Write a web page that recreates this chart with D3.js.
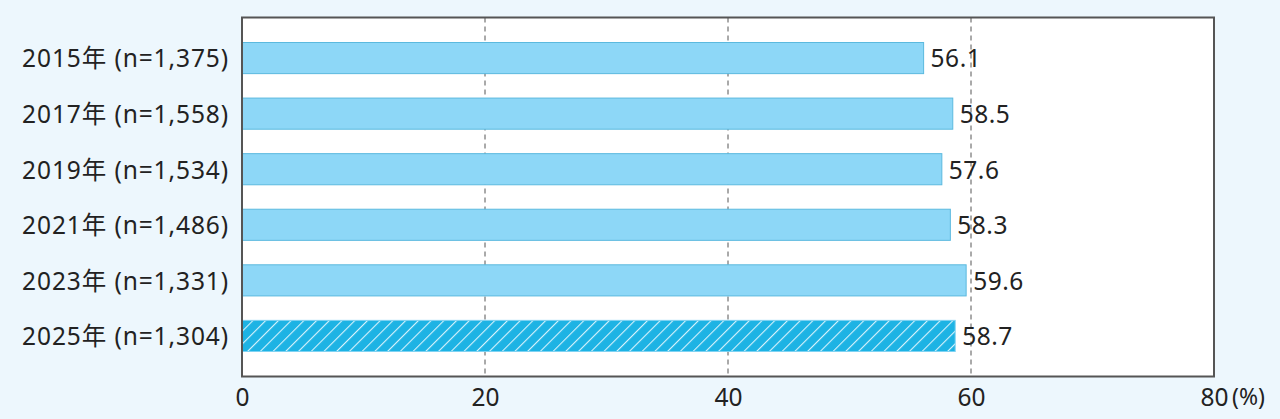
<!DOCTYPE html>
<html>
<head>
<meta charset="utf-8">
<script src="https://cdn.jsdelivr.net/npm/d3@7"></script>
<style>
  html, body { margin: 0; padding: 0; background: #edf7fd; }
  svg { display: block; font-family: 'Noto Sans', 'Noto Sans CJK JP', sans-serif; }
</style>
</head>
<body>
<svg id="chart"></svg>
<script>
const categories = ['2015年 (n=1,375)', '2017年 (n=1,558)', '2019年 (n=1,534)',
  '2021年 (n=1,486)', '2023年 (n=1,331)', '2025年 (n=1,304)'];
const values = [56.1, 58.5, 57.6, 58.3, 59.6, 58.7];
const highlighted = [false, false, false, false, false, true];
const xTicks = [0, 20, 40, 60, 80];
const unitLabel = '(%)';

const w = 1280;
const h = 419;
const margin = { top: 17.5, right: 66, bottom: 42.5, left: 242 };
const textColor = '#222';

const svg = d3.select('#chart').attr('width', w).attr('height', h);

// hatch for the latest year
const defs = svg.append('defs');
const pat = defs.append('pattern')
  .attr('id', 'hatch')
  .attr('patternUnits', 'userSpaceOnUse')
  .attr('width', 9)
  .attr('height', 9)
  .attr('patternTransform', 'rotate(45)');
pat.append('rect').attr('width', 9).attr('height', 9).attr('fill', '#1db3e4');
pat.append('line')
  .attr('x1', 0).attr('y1', 0).attr('x2', 0).attr('y2', 9)
  .attr('stroke', '#d8f3fc').attr('stroke-width', 2.2);

const xScale = d3.scaleLinear()
  .domain([0, 80])
  .range([margin.left, w - margin.right]);

const yScale = d3.scaleBand()
  .domain(categories)
  .range([margin.top, h - margin.bottom])
  .paddingInner(0.44)
  .paddingOuter(0.45);

// plot background
svg.append('rect')
  .attr('x', xScale(0))
  .attr('y', margin.top)
  .attr('width', xScale(80) - xScale(0))
  .attr('height', h - margin.bottom - margin.top)
  .attr('fill', '#fff');

// dashed grid
svg.append('g')
  .selectAll('line')
  .data(xTicks.slice(1, -1))
  .enter()
  .append('line')
  .attr('x1', (d) => xScale(d))
  .attr('x2', (d) => xScale(d))
  .attr('y1', margin.top)
  .attr('y2', h - margin.bottom)
  .attr('stroke', '#555')
  .attr('stroke-width', 1)
  .attr('stroke-dasharray', '5,4');

// bars
svg.append('g')
  .selectAll('rect')
  .data(values)
  .enter()
  .append('rect')
  .attr('x', xScale(0))
  .attr('y', (d, i) => yScale(categories[i]))
  .attr('width', (d) => xScale(d) - xScale(0))
  .attr('height', yScale.bandwidth())
  .attr('fill', (d, i) => (highlighted[i] ? 'url(#hatch)' : '#8dd7f7'))
  .attr('stroke', (d, i) => (highlighted[i] ? '#7fd2f2' : '#5bb9de'))
  .attr('stroke-width', 1);

// value labels
svg.append('g')
  .selectAll('text')
  .data(values)
  .enter()
  .append('text')
  .attr('x', (d) => xScale(d) + 7)
  .attr('y', (d, i) => yScale(categories[i]) + yScale.bandwidth() / 2)
  .attr('dy', '0.38em')
  .attr('font-size', 24.5)
  .attr('letter-spacing', 0.5)
  .attr('fill', textColor)
  .text((d) => d.toFixed(1));

// frame
svg.append('rect')
  .attr('x', xScale(0))
  .attr('y', margin.top)
  .attr('width', xScale(80) - xScale(0))
  .attr('height', h - margin.bottom - margin.top)
  .attr('fill', 'none')
  .attr('stroke', '#555')
  .attr('stroke-width', 2);

// y axis labels
const yAxis = d3.axisLeft(yScale).tickSize(0).tickPadding(13);
const yG = svg.append('g')
  .attr('transform', `translate(${xScale(0)}, 0)`)
  .call(yAxis);
yG.select('.domain').remove();
yG.selectAll('text')
  .attr('font-size', 24.5)
  .attr('font-family', "'Noto Sans', 'Noto Sans CJK JP', sans-serif")
  .attr('letter-spacing', 0.9)
  .attr('dy', '0.38em')
  .attr('fill', textColor);

// x axis labels
const xAxis = d3.axisBottom(xScale).tickValues(xTicks).tickSize(0).tickPadding(12);
const xG = svg.append('g')
  .attr('transform', `translate(0, ${h - margin.bottom})`)
  .call(xAxis);
xG.select('.domain').remove();
xG.selectAll('text')
  .attr('font-size', 24.5)
  .attr('font-family', "'Noto Sans', sans-serif")
  .attr('fill', textColor);

svg.append('text')
  .attr('x', xScale(80) + 18)
  .attr('y', h - margin.bottom + 12)
  .attr('dy', '0.71em')
  .attr('font-size', 23)
  .attr('fill', textColor)
  .text(unitLabel);
</script>
</body>
</html>
